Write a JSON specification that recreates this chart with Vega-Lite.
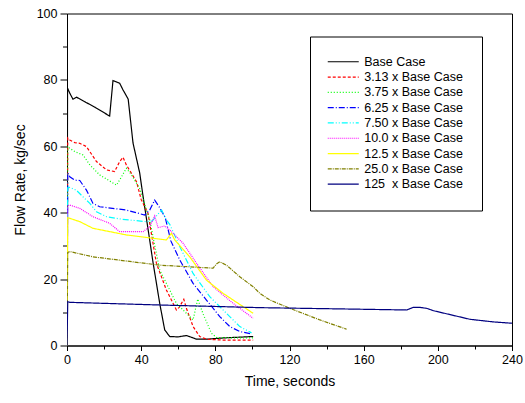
{
  "$schema": "https://vega.github.io/schema/vega-lite/v6.json",
  "width": 445,
  "height": 332,
  "autosize": {"type": "none"},
  "padding": {"left": 67, "top": 13.5, "right": 13, "bottom": 57.5},
  "background": "white",
  "config": {
    "view": {"stroke": "black", "strokeWidth": 1},
    "font": "Liberation Sans",
    "axis": {
      "grid": false,
      "domainColor": "black",
      "tickColor": "black",
      "labelColor": "black",
      "titleColor": "black",
      "labelFont": "Liberation Sans",
      "titleFont": "Liberation Sans",
      "labelFontSize": 12.5,
      "titleFontSize": 14,
      "titleFontWeight": "normal"
    },
    "legend": {
      "title": null,
      "symbolType": "M-3.1,0H3.1",
      "symbolSize": 100,
      "symbolStrokeWidth": 1,
      "symbolOffset": 8,
      "labelFont": "Liberation Sans",
      "labelFontSize": 12.5,
      "labelColor": "black",
      "labelOffset": 14.7,
      "rowPadding": 2.3,
      "padding": 19,
      "strokeColor": "black",
      "fillColor": "white"
    }
  },
  "data": {
    "values": [
      {"series": "Base Case", "t": 0, "v": 0},
      {"series": "Base Case", "t": 0.3, "v": 77.5},
      {"series": "Base Case", "t": 1.5, "v": 76},
      {"series": "Base Case", "t": 3.2, "v": 74.2},
      {"series": "Base Case", "t": 5.1, "v": 74.8},
      {"series": "Base Case", "t": 10, "v": 73.3},
      {"series": "Base Case", "t": 15, "v": 71.8},
      {"series": "Base Case", "t": 23, "v": 69.1},
      {"series": "Base Case", "t": 24.8, "v": 79.8},
      {"series": "Base Case", "t": 28.4, "v": 79},
      {"series": "Base Case", "t": 30.2, "v": 77},
      {"series": "Base Case", "t": 33, "v": 74.2},
      {"series": "Base Case", "t": 35.6, "v": 61},
      {"series": "Base Case", "t": 39.2, "v": 52},
      {"series": "Base Case", "t": 41, "v": 45},
      {"series": "Base Case", "t": 44, "v": 34},
      {"series": "Base Case", "t": 46.4, "v": 25},
      {"series": "Base Case", "t": 50, "v": 12.7},
      {"series": "Base Case", "t": 52.7, "v": 4.7},
      {"series": "Base Case", "t": 55.4, "v": 2.7},
      {"series": "Base Case", "t": 60, "v": 2.6},
      {"series": "Base Case", "t": 64.4, "v": 3},
      {"series": "Base Case", "t": 67, "v": 2.5},
      {"series": "Base Case", "t": 69.8, "v": 1.9},
      {"series": "Base Case", "t": 75.2, "v": 1.9},
      {"series": "Base Case", "t": 85, "v": 2.3},
      {"series": "Base Case", "t": 100.4, "v": 2.7},

      {"series": "3.13 x Base Case", "t": 0, "v": 0},
      {"series": "3.13 x Base Case", "t": 0.4, "v": 62.5},
      {"series": "3.13 x Base Case", "t": 1.5, "v": 61.9},
      {"series": "3.13 x Base Case", "t": 4.2, "v": 61.1},
      {"series": "3.13 x Base Case", "t": 6.9, "v": 60.9},
      {"series": "3.13 x Base Case", "t": 10.5, "v": 59.9},
      {"series": "3.13 x Base Case", "t": 15.9, "v": 55.4},
      {"series": "3.13 x Base Case", "t": 21.3, "v": 52.9},
      {"series": "3.13 x Base Case", "t": 25.7, "v": 52.4},
      {"series": "3.13 x Base Case", "t": 28.4, "v": 55.4},
      {"series": "3.13 x Base Case", "t": 30.2, "v": 56.7},
      {"series": "3.13 x Base Case", "t": 32, "v": 54.4},
      {"series": "3.13 x Base Case", "t": 37.5, "v": 49.3},
      {"series": "3.13 x Base Case", "t": 40, "v": 44},
      {"series": "3.13 x Base Case", "t": 43.7, "v": 39.8},
      {"series": "3.13 x Base Case", "t": 48.2, "v": 24.8},
      {"series": "3.13 x Base Case", "t": 53.6, "v": 16.7},
      {"series": "3.13 x Base Case", "t": 59, "v": 10.7},
      {"series": "3.13 x Base Case", "t": 60.5, "v": 11.5},
      {"series": "3.13 x Base Case", "t": 63, "v": 13.9},
      {"series": "3.13 x Base Case", "t": 64.4, "v": 11.2},
      {"series": "3.13 x Base Case", "t": 68, "v": 5.7},
      {"series": "3.13 x Base Case", "t": 71.6, "v": 2.7},
      {"series": "3.13 x Base Case", "t": 75.2, "v": 1.9},
      {"series": "3.13 x Base Case", "t": 85, "v": 1.6},
      {"series": "3.13 x Base Case", "t": 100.4, "v": 1.6},

      {"series": "3.75 x Base Case", "t": 0, "v": 0},
      {"series": "3.75 x Base Case", "t": 0.4, "v": 60},
      {"series": "3.75 x Base Case", "t": 1.5, "v": 59.4},
      {"series": "3.75 x Base Case", "t": 4.2, "v": 58.4},
      {"series": "3.75 x Base Case", "t": 8.6, "v": 57.4},
      {"series": "3.75 x Base Case", "t": 12.3, "v": 54.4},
      {"series": "3.75 x Base Case", "t": 17.6, "v": 51.4},
      {"series": "3.75 x Base Case", "t": 26.7, "v": 48.3},
      {"series": "3.75 x Base Case", "t": 29.4, "v": 50.8},
      {"series": "3.75 x Base Case", "t": 32, "v": 53.4},
      {"series": "3.75 x Base Case", "t": 34.8, "v": 51.4},
      {"series": "3.75 x Base Case", "t": 39.2, "v": 47.3},
      {"series": "3.75 x Base Case", "t": 44.6, "v": 37.8},
      {"series": "3.75 x Base Case", "t": 50, "v": 22.7},
      {"series": "3.75 x Base Case", "t": 55.4, "v": 16.7},
      {"series": "3.75 x Base Case", "t": 59, "v": 12.7},
      {"series": "3.75 x Base Case", "t": 64.4, "v": 9.7},
      {"series": "3.75 x Base Case", "t": 68, "v": 7.7},
      {"series": "3.75 x Base Case", "t": 70.5, "v": 14},
      {"series": "3.75 x Base Case", "t": 73.4, "v": 9.5},
      {"series": "3.75 x Base Case", "t": 77.9, "v": 3.7},
      {"series": "3.75 x Base Case", "t": 80.6, "v": 2.4},
      {"series": "3.75 x Base Case", "t": 90, "v": 2.3},
      {"series": "3.75 x Base Case", "t": 100.4, "v": 2.3},

      {"series": "6.25 x Base Case", "t": 0, "v": 0},
      {"series": "6.25 x Base Case", "t": 0.4, "v": 52},
      {"series": "6.25 x Base Case", "t": 1.5, "v": 50.8},
      {"series": "6.25 x Base Case", "t": 4.2, "v": 49.8},
      {"series": "6.25 x Base Case", "t": 6.9, "v": 49.7},
      {"series": "6.25 x Base Case", "t": 10.5, "v": 46.8},
      {"series": "6.25 x Base Case", "t": 14, "v": 42.8},
      {"series": "6.25 x Base Case", "t": 17.6, "v": 41.8},
      {"series": "6.25 x Base Case", "t": 32, "v": 40.8},
      {"series": "6.25 x Base Case", "t": 41.9, "v": 39.3},
      {"series": "6.25 x Base Case", "t": 44.6, "v": 40.8},
      {"series": "6.25 x Base Case", "t": 47.3, "v": 43.8},
      {"series": "6.25 x Base Case", "t": 50, "v": 41.5},
      {"series": "6.25 x Base Case", "t": 53, "v": 38.5},
      {"series": "6.25 x Base Case", "t": 56, "v": 31.5},
      {"series": "6.25 x Base Case", "t": 60.8, "v": 25.8},
      {"series": "6.25 x Base Case", "t": 68, "v": 18.7},
      {"series": "6.25 x Base Case", "t": 75.2, "v": 13.7},
      {"series": "6.25 x Base Case", "t": 82.4, "v": 8.7},
      {"series": "6.25 x Base Case", "t": 87.8, "v": 5.7},
      {"series": "6.25 x Base Case", "t": 93.2, "v": 4.2},
      {"series": "6.25 x Base Case", "t": 99.5, "v": 3.5},

      {"series": "7.50 x Base Case", "t": 0, "v": 0},
      {"series": "7.50 x Base Case", "t": 0.4, "v": 47.5},
      {"series": "7.50 x Base Case", "t": 1.5, "v": 47.6},
      {"series": "7.50 x Base Case", "t": 5, "v": 46.8},
      {"series": "7.50 x Base Case", "t": 8.6, "v": 44.8},
      {"series": "7.50 x Base Case", "t": 12.3, "v": 42.8},
      {"series": "7.50 x Base Case", "t": 15.9, "v": 40.3},
      {"series": "7.50 x Base Case", "t": 21.3, "v": 38.8},
      {"series": "7.50 x Base Case", "t": 30, "v": 38},
      {"series": "7.50 x Base Case", "t": 42.8, "v": 37.3},
      {"series": "7.50 x Base Case", "t": 46, "v": 37.5},
      {"series": "7.50 x Base Case", "t": 49, "v": 39.5},
      {"series": "7.50 x Base Case", "t": 51, "v": 40.8},
      {"series": "7.50 x Base Case", "t": 53.6, "v": 37.8},
      {"series": "7.50 x Base Case", "t": 55.4, "v": 36.5},
      {"series": "7.50 x Base Case", "t": 60.8, "v": 29.8},
      {"series": "7.50 x Base Case", "t": 68, "v": 21.7},
      {"series": "7.50 x Base Case", "t": 77, "v": 14.7},
      {"series": "7.50 x Base Case", "t": 86, "v": 9.7},
      {"series": "7.50 x Base Case", "t": 93.2, "v": 5.7},
      {"series": "7.50 x Base Case", "t": 99.5, "v": 3.8},

      {"series": "10.0 x Base Case", "t": 0, "v": 0},
      {"series": "10.0 x Base Case", "t": 0.4, "v": 42},
      {"series": "10.0 x Base Case", "t": 1.5, "v": 42.3},
      {"series": "10.0 x Base Case", "t": 6.9, "v": 41.3},
      {"series": "10.0 x Base Case", "t": 14, "v": 38.8},
      {"series": "10.0 x Base Case", "t": 23, "v": 36.8},
      {"series": "10.0 x Base Case", "t": 28.4, "v": 34.3},
      {"series": "10.0 x Base Case", "t": 35, "v": 34.3},
      {"series": "10.0 x Base Case", "t": 41, "v": 34.3},
      {"series": "10.0 x Base Case", "t": 44.6, "v": 35.8},
      {"series": "10.0 x Base Case", "t": 47.3, "v": 39},
      {"series": "10.0 x Base Case", "t": 49.1, "v": 35.5},
      {"series": "10.0 x Base Case", "t": 52.7, "v": 36},
      {"series": "10.0 x Base Case", "t": 55.4, "v": 34.8},
      {"series": "10.0 x Base Case", "t": 62.6, "v": 30.8},
      {"series": "10.0 x Base Case", "t": 69.8, "v": 24.8},
      {"series": "10.0 x Base Case", "t": 78.8, "v": 17.7},
      {"series": "10.0 x Base Case", "t": 89.6, "v": 12.7},
      {"series": "10.0 x Base Case", "t": 100.4, "v": 8.2},

      {"series": "12.5 x Base Case", "t": 0, "v": 0},
      {"series": "12.5 x Base Case", "t": 0.4, "v": 38.5},
      {"series": "12.5 x Base Case", "t": 1.5, "v": 38.3},
      {"series": "12.5 x Base Case", "t": 6.9, "v": 37.3},
      {"series": "12.5 x Base Case", "t": 14, "v": 35.3},
      {"series": "12.5 x Base Case", "t": 32, "v": 33.3},
      {"series": "12.5 x Base Case", "t": 53.6, "v": 31.8},
      {"series": "12.5 x Base Case", "t": 56.3, "v": 33.8},
      {"series": "12.5 x Base Case", "t": 58.1, "v": 31.8},
      {"series": "12.5 x Base Case", "t": 66.2, "v": 26.7},
      {"series": "12.5 x Base Case", "t": 75.2, "v": 19.7},
      {"series": "12.5 x Base Case", "t": 84.2, "v": 15.7},
      {"series": "12.5 x Base Case", "t": 100.4, "v": 9.7},

      {"series": "25.0 x Base Case", "t": 0, "v": 0},
      {"series": "25.0 x Base Case", "t": 0.4, "v": 28},
      {"series": "25.0 x Base Case", "t": 1.5, "v": 28.3},
      {"series": "25.0 x Base Case", "t": 14, "v": 26.7},
      {"series": "25.0 x Base Case", "t": 50, "v": 24.2},
      {"series": "25.0 x Base Case", "t": 78.8, "v": 23.3},
      {"series": "25.0 x Base Case", "t": 80.5, "v": 24.5},
      {"series": "25.0 x Base Case", "t": 82.4, "v": 25.2},
      {"series": "25.0 x Base Case", "t": 86, "v": 24.2},
      {"series": "25.0 x Base Case", "t": 93.2, "v": 20.7},
      {"series": "25.0 x Base Case", "t": 100.4, "v": 17.7},
      {"series": "25.0 x Base Case", "t": 104, "v": 15.7},
      {"series": "25.0 x Base Case", "t": 109.4, "v": 13.7},
      {"series": "25.0 x Base Case", "t": 120.2, "v": 11.2},
      {"series": "25.0 x Base Case", "t": 136.4, "v": 7.7},
      {"series": "25.0 x Base Case", "t": 150.8, "v": 4.9},

      {"series": "125\u00a0 x Base Case", "t": 0, "v": 0},
      {"series": "125\u00a0 x Base Case", "t": 0.4, "v": 13.2},
      {"series": "125\u00a0 x Base Case", "t": 1.5, "v": 13},
      {"series": "125\u00a0 x Base Case", "t": 50, "v": 12.2},
      {"series": "125\u00a0 x Base Case", "t": 104, "v": 11.4},
      {"series": "125\u00a0 x Base Case", "t": 150, "v": 11},
      {"series": "125\u00a0 x Base Case", "t": 183.2, "v": 10.7},
      {"series": "125\u00a0 x Base Case", "t": 186.7, "v": 11.5},
      {"series": "125\u00a0 x Base Case", "t": 190, "v": 11.5},
      {"series": "125\u00a0 x Base Case", "t": 194, "v": 11.2},
      {"series": "125\u00a0 x Base Case", "t": 197.5, "v": 10.5},
      {"series": "125\u00a0 x Base Case", "t": 217.3, "v": 7.9},
      {"series": "125\u00a0 x Base Case", "t": 230, "v": 7.1},
      {"series": "125\u00a0 x Base Case", "t": 240, "v": 6.7}
    ]
  },
  "mark": {"type": "line", "clip": true},
  "encoding": {
    "x": {
      "field": "t",
      "type": "quantitative",
      "title": "Time, seconds",
      "scale": {"domain": [0, 240], "nice": false, "zero": false},
      "axis": {
        "values": [0, 20, 40, 60, 80, 100, 120, 140, 160, 180, 200, 220, 240],
        "labelExpr": "datum.value % 40 == 0 ? datum.label : ''",
        "tickSize": {"condition": {"test": "datum.value % 40 == 0", "value": 5}, "value": 3.5},
        "labelPadding": 3,
        "titlePadding": 8,
        "labelFlush": false,
        "labelOverlap": false
      }
    },
    "y": {
      "field": "v",
      "type": "quantitative",
      "title": "Flow Rate, kg/sec",
      "scale": {"domain": [0, 100], "nice": false},
      "axis": {
        "values": [0, 10, 20, 30, 40, 50, 60, 70, 80, 90, 100],
        "labelExpr": "datum.value % 20 == 0 ? datum.label : ''",
        "tickSize": {"condition": {"test": "datum.value % 20 == 0", "value": 7}, "value": 4.5},
        "labelPadding": 3,
        "titlePadding": 9,
        "labelFlush": false,
        "labelOverlap": false
      }
    },
    "color": {
      "field": "series",
      "type": "nominal",
      "scale": {
        "domain": ["Base Case", "3.13 x Base Case", "3.75 x Base Case", "6.25 x Base Case", "7.50 x Base Case", "10.0 x Base Case", "12.5 x Base Case", "25.0 x Base Case", "125\u00a0 x Base Case"],
        "range": ["#000000", "#FF0000", "#00FF00", "#0000FF", "#00FFFF", "#FF00FF", "#FFFF00", "#808000", "#000080"]
      },
      "legend": {"orient": "none", "legendX": 243, "legendY": 23}
    },
    "strokeDash": {
      "field": "series",
      "type": "nominal",
      "scale": {
        "domain": ["Base Case", "3.13 x Base Case", "3.75 x Base Case", "6.25 x Base Case", "7.50 x Base Case", "10.0 x Base Case", "12.5 x Base Case", "25.0 x Base Case", "125\u00a0 x Base Case"],
        "range": [[1, 0], [3, 2], [1, 2], [6, 2, 1, 2], [6, 2, 1, 2, 1, 2], [1, 1], [1, 0], [4, 1, 1, 1], [1, 0]]
      },
      "legend": {"orient": "none", "legendX": 243, "legendY": 23}
    },
    "strokeWidth": {
      "field": "series",
      "type": "nominal",
      "scale": {
        "domain": ["Base Case", "3.13 x Base Case", "3.75 x Base Case", "6.25 x Base Case", "7.50 x Base Case", "10.0 x Base Case", "12.5 x Base Case", "25.0 x Base Case", "125\u00a0 x Base Case"],
        "range": [1.2, 1.2, 1.2, 1.2, 1.2, 1.2, 1.2, 1.2, 1.6]
      },
      "legend": null
    }
  }
}
